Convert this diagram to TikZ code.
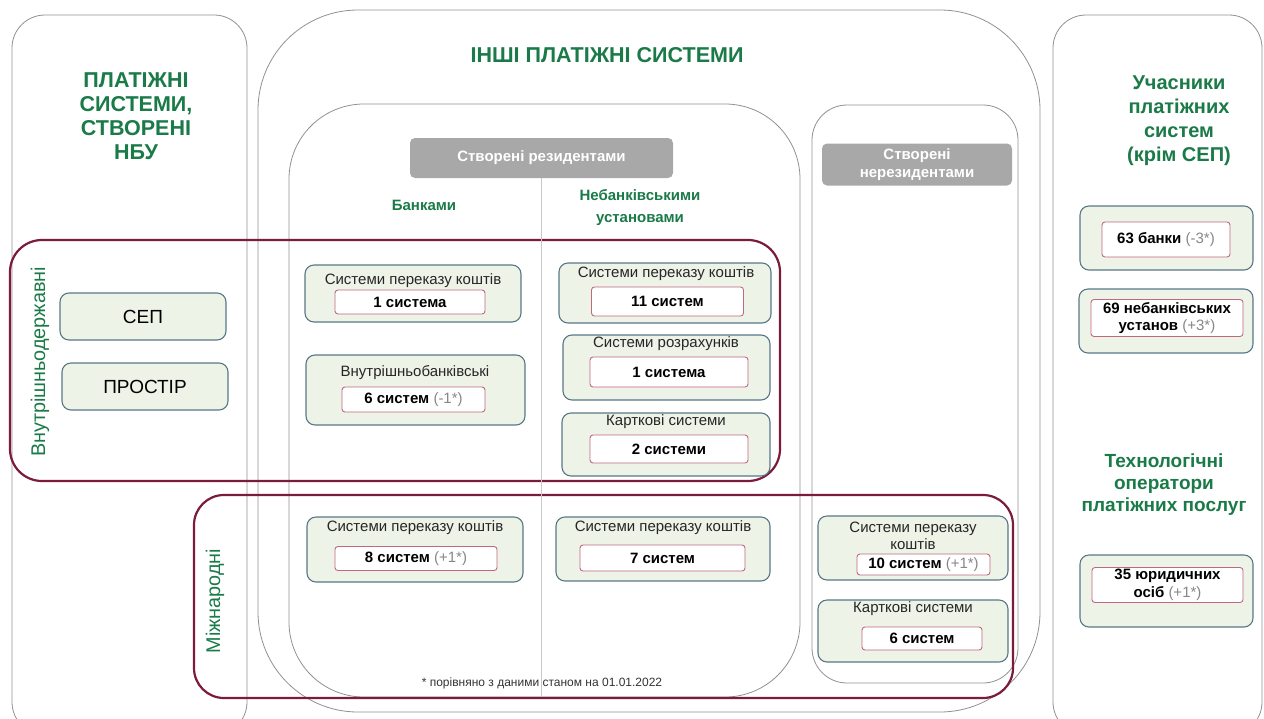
\documentclass[tikz,border=0pt]{standalone}
\usepackage{fontspec}
\setmainfont{Liberation Sans}
\usetikzlibrary{positioning}
\definecolor{nbugreen}{RGB}{26,122,72}
\definecolor{bandred}{RGB}{122,28,58}
\definecolor{panelgray}{RGB}{145,145,145}
\definecolor{boxfill}{RGB}{238,243,232}
\definecolor{boxedge}{RGB}{88,120,136}
\definecolor{inedge}{RGB}{192,104,128}
\definecolor{labelgray}{RGB}{168,168,168}
\definecolor{deltagray}{RGB}{135,135,135}
\definecolor{divgray}{RGB}{200,200,200}
\tikzset{
  panel/.style={draw=panelgray, line width=0.8pt},
  band/.style={draw=bandred, line width=2.2pt},
  outerbox/.style={draw=boxedge, fill=boxfill, line width=1.1pt, rounded corners=9pt, inner sep=0pt},
  innerbox/.style={draw=inedge, fill=white, line width=0.9pt, rounded corners=3pt, inner sep=0pt,
     font=\bfseries\fontsize{15}{17.5}\selectfont, align=center},
  boxtitle/.style={font=\fontsize{15}{17.5}\selectfont, text=black!85, align=center, inner sep=0pt},
  bigtitle/.style={text=nbugreen, font=\bfseries\fontsize{21.5}{24}\selectfont, align=center, inner sep=0pt},
  sidetitle/.style={text=nbugreen, font=\bfseries\fontsize{20}{24}\selectfont, align=center, inner sep=0pt},
  coltitle/.style={text=nbugreen, font=\bfseries\fontsize{15}{22}\selectfont, align=center, inner sep=0pt},
  graylabel/.style={fill=labelgray, rounded corners=5pt, text=white, font=\bfseries\fontsize{15}{18}\selectfont, align=center, inner sep=0pt},
  bandlabel/.style={text=nbugreen, font=\fontsize{19.8}{22}\selectfont, rotate=90, inner sep=0pt},
  simplebox/.style={outerbox, font=\fontsize{19}{22}\selectfont},
}
\newcommand{\dlt}[1]{{\mdseries\color{deltagray}#1}}
\begin{document}
\begin{tikzpicture}[x=1pt,y=-1pt]
\useasboundingbox (0,0) rectangle (1264,718);
\fill[white] (0,0) rectangle (1264,718);
% panels
\draw[panel, rounded corners=33pt] (12,15) rectangle (247,735);
\draw[panel, rounded corners=100pt] (258,10) rectangle (1040,712);
\draw[panel, rounded corners=75pt] (289,104) rectangle (800,697);
\draw[panel, rounded corners=35pt] (812,105) rectangle (1018,683);
\draw[panel, rounded corners=33pt] (1053,15) rectangle (1262,735);
% bands
\draw[band, rounded corners=32pt] (10,240) rectangle (780,481);
\draw[band, rounded corners=30pt] (194,495) rectangle (1013,698);
% titles
\node[bigtitle] (tnbu) at (136,116) {ПЛАТІЖНІ\\СИСТЕМИ,\\СТВОРЕНІ\\НБУ};
\node[bigtitle] (tother) at (607,55) {ІНШІ ПЛАТІЖНІ СИСТЕМИ};
\node[sidetitle] (tpart) at (1179,121) {Учасники\\платіжних\\систем\\(крім СЕП)};
\node[sidetitle, font=\bfseries\fontsize{19}{22}\selectfont] (ttech) at (1164,485) {Технологічні\\оператори\\платіжних послуг};
\node[bandlabel] (ldom) at (40,362) {Внутрішньодержавні};
\node[bandlabel] (lint) at (215,601) {Міжнародні};
% gray labels
\node[graylabel, minimum width=263pt, minimum height=40pt] (lres) at (541.5,158) {Створені резидентами};
\node[graylabel, minimum width=190pt, minimum height=42pt] (lnres) at (917,164.5) {Створені\\нерезидентами};
\coordinate (divend) at (541.5,697);
\draw[divgray, line width=0.8pt] (lres.south) -- (divend);
\node[coltitle] (cbank) at (424,205) {Банками};
\node[coltitle] (cnbank) at (640,208) {Небанківськими\\установами};
% NBU systems
\node[simplebox, minimum width=166pt, minimum height=47pt] (sep) at (143,316.5) {СЕП};
\node[simplebox, minimum width=166pt, minimum height=47pt] (prostir) at (145,386.5) {ПРОСТІР};
% Banks, domestic
\node[outerbox, minimum width=216pt, minimum height=57pt] (bA) at (413,293.5) {};
\node[boxtitle] (bAt) at (413,281) {Системи переказу коштів};
\node[innerbox, minimum width=150pt, minimum height=24pt] (bAi) at (410,302) {1 система};
\node[outerbox, minimum width=219pt, minimum height=70pt] (bB) at (415.5,390) {};
\node[boxtitle] (bBt) at (415,373) {Внутрішньобанківські};
\node[innerbox, minimum width=143pt, minimum height=25pt] (bBi) at (413.5,399.5) {6 систем \dlt{(-1*)}};
% Non-banks, domestic
\node[outerbox, minimum width=212pt, minimum height=60pt] (bC) at (665,293) {};
\node[boxtitle] (bCt) at (666,273.5) {Системи переказу коштів};
\node[innerbox, minimum width=152pt, minimum height=29pt] (bCi) at (667.5,301.5) {11 систем};
\node[outerbox, minimum width=207pt, minimum height=65pt] (bD) at (666.5,367.5) {};
\node[boxtitle] (bDt) at (666,344) {Системи розрахунків};
\node[innerbox, minimum width=158pt, minimum height=30pt] (bDi) at (669,372) {1 система};
\node[outerbox, minimum width=208pt, minimum height=63pt] (bE) at (666,444.5) {};
\node[boxtitle] (bEt) at (666,422) {Карткові системи};
\node[innerbox, minimum width=158pt, minimum height=28pt] (bEi) at (669,449) {2 системи};
% International
\node[outerbox, minimum width=216pt, minimum height=65pt] (bF) at (415,549.5) {};
\node[boxtitle] (bFt) at (415,528) {Системи переказу коштів};
\node[innerbox, minimum width=162pt, minimum height=24pt] (bFi) at (416,558.5) {8 систем \dlt{(+1*)}};
\node[outerbox, minimum width=214pt, minimum height=64pt] (bG) at (663,549) {};
\node[boxtitle] (bGt) at (663,528) {Системи переказу коштів};
\node[innerbox, minimum width=165pt, minimum height=26pt] (bGi) at (662.5,558) {7 систем};
\node[outerbox, minimum width=190pt, minimum height=64pt] (bH) at (913,548) {};
\node[boxtitle] (bHt) at (913,536) {Системи переказу\\коштів};
\node[innerbox, minimum width=133pt, minimum height=21pt] (bHi) at (923.5,564.5) {10 систем \dlt{(+1*)}};
\node[outerbox, minimum width=190pt, minimum height=62pt] (bI) at (913,631) {};
\node[boxtitle] (bIt) at (913,609) {Карткові системи};
\node[innerbox, minimum width=120pt, minimum height=23pt] (bIi) at (922,638.5) {6 систем};
% right column
\node[outerbox, minimum width=173pt, minimum height=64pt] (r1) at (1166.5,238) {};
\node[innerbox, minimum width=128pt, minimum height=35pt] (r1i) at (1166,239.5) {63 банки \dlt{(-3*)}};
\node[outerbox, minimum width=174pt, minimum height=64pt] (r2) at (1166,321) {};
\node[innerbox, minimum width=152pt, minimum height=37pt] (r2i) at (1167,318) {69 небанківських\\установ \dlt{(+3*)}};
\node[outerbox, minimum width=173pt, minimum height=72pt] (r3) at (1166.5,591) {};
\node[innerbox, minimum width=151pt, minimum height=35pt] (r3i) at (1167.5,585) {35 юридичних\\осіб \dlt{(+1*)}};
% footnote
\node[font=\fontsize{12}{14}\selectfont, text=black!80, inner sep=0pt] (fn) at (542,683) {* порівняно з даними станом на 01.01.2022};
\end{tikzpicture}
\end{document}
